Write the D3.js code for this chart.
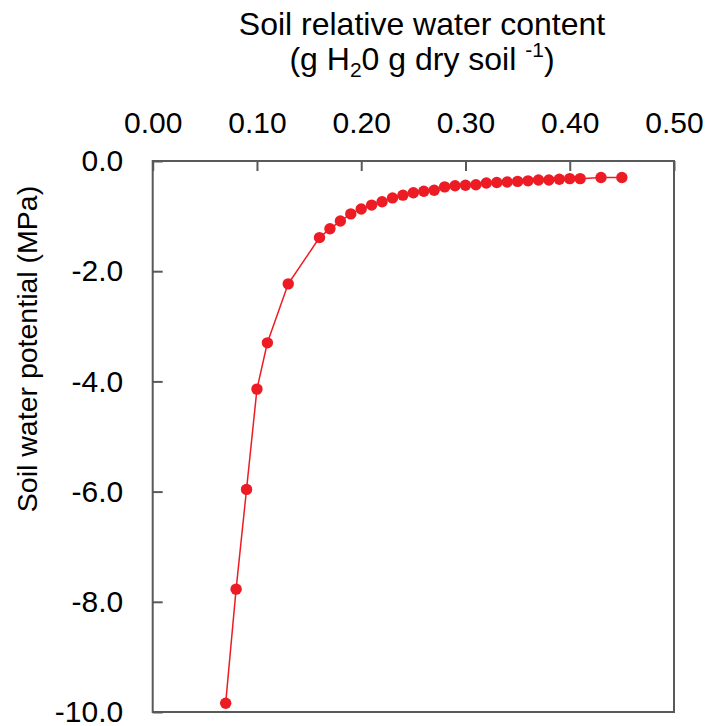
<!DOCTYPE html>
<html>
<head>
<meta charset="utf-8">
<script src="https://cdn.jsdelivr.net/npm/d3@7"></script>
<style>
  html, body { margin: 0; padding: 0; background: #fff; }
  svg { display: block; font-family: "Liberation Sans", Arial, sans-serif; }
</style>
</head>
<body>
<svg id="chart" width="707" height="726"></svg>
<script>
// Data
const waterContent = [0.07, 0.08, 0.09, 0.10, 0.11, 0.13, 0.16, 0.17, 0.18, 0.19, 0.20, 0.21, 0.22, 0.23, 0.24, 0.25, 0.26, 0.27, 0.28, 0.29, 0.30, 0.31, 0.32, 0.33, 0.34, 0.35, 0.36, 0.37, 0.38, 0.39, 0.40, 0.41, 0.43, 0.45];
const waterPotential = [-9.84, -7.77, -5.96, -4.14, -3.30, -2.23, -1.39, -1.23, -1.09, -0.96, -0.87, -0.80, -0.74, -0.67, -0.62, -0.575, -0.55, -0.53, -0.47, -0.45, -0.44, -0.43, -0.40, -0.39, -0.38, -0.37, -0.36, -0.345, -0.345, -0.33, -0.32, -0.32, -0.30, -0.30];
const xTicks = [0.00, 0.10, 0.20, 0.30, 0.40, 0.50];
const yTicks = [0.0, -2.0, -4.0, -6.0, -8.0, -10.0];
const xTitleLine1 = "Soil relative water content";
const yTitle = "Soil water potential (MPa)";

(function () {
const svg = d3.select("#chart");
const pLeft = 152.7, pRight = 674, pTop = 161, pBottom = 712;
const red = "#ed1c24";
const frameColor = "#595959";

const x = d3.scaleLinear().domain([0, 0.5]).range([pLeft, pRight]);
const y = d3.scaleLinear().domain([-10, 0]).range([pBottom, pTop]);

const data = waterContent.map((v, i) => ({ x: v, y: waterPotential[i] }));

// Axes
const xAxis = d3.axisTop(x).tickValues(xTicks).tickFormat(d => d.toFixed(2))
  .tickSizeInner(-10).tickSizeOuter(0).tickPadding(28);
const gx = svg.append("g").attr("transform", `translate(0,${pTop})`).call(xAxis);
gx.select(".domain").remove();
gx.selectAll(".tick line").attr("stroke", frameColor).attr("stroke-width", 2);
gx.selectAll(".tick text").attr("font-size", 30).attr("fill", "#000")
  .attr("font-family", "'Liberation Sans', Arial, sans-serif");

const yAxis = d3.axisLeft(y).tickValues(yTicks).tickFormat(d => d.toFixed(1))
  .tickSizeInner(-10).tickSizeOuter(0).tickPadding(29.5);
const gy = svg.append("g").attr("transform", `translate(${pLeft},0)`).call(yAxis);
gy.select(".domain").remove();
gy.selectAll(".tick line").attr("stroke", frameColor).attr("stroke-width", 2);
gy.selectAll(".tick text").attr("font-size", 30).attr("fill", "#000")
  .attr("font-family", "'Liberation Sans', Arial, sans-serif");

// Frame
svg.append("rect")
  .attr("x", pLeft).attr("y", pTop)
  .attr("width", pRight - pLeft).attr("height", pBottom - pTop)
  .attr("fill", "none").attr("stroke", frameColor).attr("stroke-width", 2);

// Line
const line = d3.line().x(d => x(d.x)).y(d => y(d.y));
svg.append("path").datum(data)
  .attr("d", line).attr("fill", "none")
  .attr("stroke", red).attr("stroke-width", 1.5);

// Markers
svg.append("g").selectAll("circle").data(data).join("circle")
  .attr("cx", d => x(d.x)).attr("cy", d => y(d.y))
  .attr("r", 5.7).attr("fill", red);

// Top title
svg.append("text").attr("x", 422).attr("y", 35)
  .attr("text-anchor", "middle")
  .attr("font-size", 32).attr("fill", "#000")
  .text(xTitleLine1);

const t2 = svg.append("text").attr("x", 422).attr("y", 70)
  .attr("text-anchor", "middle")
  .attr("font-size", 32).attr("fill", "#000");
t2.append("tspan").text("(g H");
t2.append("tspan").attr("font-size", 21).attr("dy", 7).text("2");
t2.append("tspan").attr("dy", -7).text("0 g dry soil ");
t2.append("tspan").attr("font-size", 21).attr("dy", -13).text("-1");
t2.append("tspan").attr("dy", 13).text(")");

// Y title
svg.append("text")
  .attr("transform", `translate(37,349) rotate(-90)`)
  .attr("text-anchor", "middle").attr("font-size", 28.5).attr("fill", "#000")
  .text(yTitle);
})();
</script>
</body>
</html>
